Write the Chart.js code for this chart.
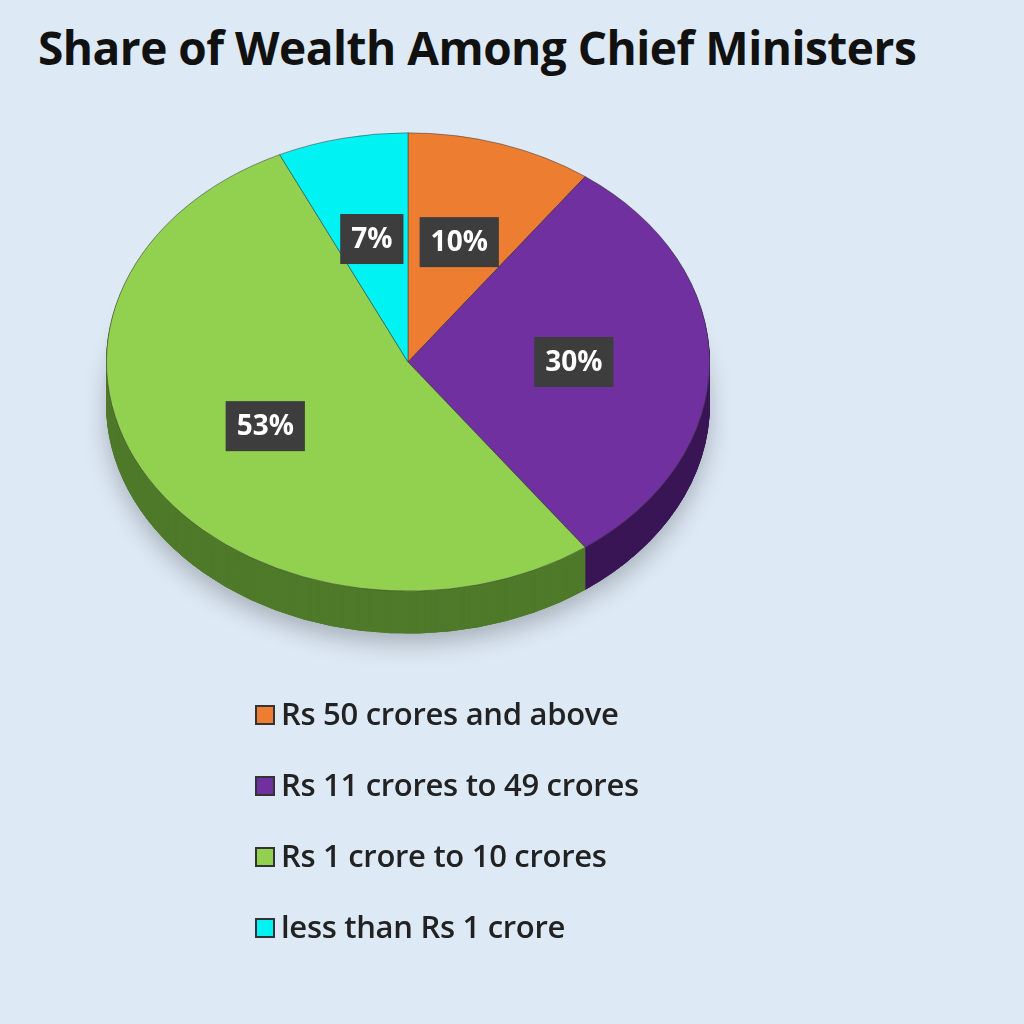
<!DOCTYPE html>
<html><head><meta charset="utf-8">
<script src="https://cdn.jsdelivr.net/npm/chart.js@4/dist/chart.umd.min.js"></script>
<style>
body{margin:0;background:#dde9f5;width:1024px;height:1024px;overflow:hidden;font-family:"Open Sans",Calibri,sans-serif}
#t{position:absolute;left:38px;top:16px;font-size:46px;font-weight:700;color:#111;letter-spacing:-0.5px}
canvas{position:absolute;left:0;top:0}
#lg{position:absolute;left:255px;top:692px}
.it{height:71px;font-size:31px;font-weight:600;color:#222;display:flex;align-items:flex-start;letter-spacing:-0.3px}
.sw{width:20px;height:20px;border:2px solid #333;margin:13px 6px 0 0;box-sizing:border-box}
</style></head><body>
<div id="t">Share of Wealth Among Chief Ministers</div>
<canvas id="c" width="1024" height="1024"></canvas>
<div id="lg"></div>
<script>
const categories=["Rs 50 crores and above","Rs 11 crores to 49 crores","Rs 1 crore to 10 crores","less than Rs 1 crore"];
const values=[10,30,53,7];
const labels=["10%","30%","53%","7%"];
const colors=["#ED7D31","#7030A0","#92D050","#00F2F2"];
const sides=["#9a4d1a","#3a1656","#4f7a2a","#008a8a"];
const CX=408,CY=362,SY=0.76,DEPTH=42;
const lg=document.getElementById('lg');
categories.forEach((c,i)=>{lg.innerHTML+=`<div class="it"><div class="sw" style="background:${colors[i]}"></div>${c}</div>`;});
function tf(ctx,dy){ctx.translate(0,CY+dy);ctx.scale(1,SY);ctx.translate(0,-CY);}
function drawSide(ctx,meta){meta.data.forEach((el,i)=>{const o=el.options.backgroundColor,b=el.options.borderColor;el.options.backgroundColor=sides[i];el.options.borderColor=sides[i];el.draw(ctx);el.options.backgroundColor=o;el.options.borderColor=b;});}
const pie3d={id:'pie3d',
beforeDatasetsDraw(chart){
 const ctx=chart.ctx,meta=chart.getDatasetMeta(0);
 ctx.save();ctx.shadowColor='rgba(0,0,0,0.25)';ctx.shadowBlur=25;ctx.shadowOffsetY=10;
 ctx.save();tf(ctx,DEPTH);drawSide(ctx,meta);ctx.restore();ctx.restore();
 for(let d=DEPTH;d>0;d-=1){ctx.save();tf(ctx,d);drawSide(ctx,meta);ctx.restore();}
 ctx.save();tf(ctx,0);meta.data.forEach(el=>el.draw(ctx));ctx.restore();
 return false;},
afterDraw(chart){
 const ctx=chart.ctx,meta=chart.getDatasetMeta(0);
 ctx.save();ctx.font='bold 28px "Open Sans",sans-serif';ctx.textAlign='center';ctx.textBaseline='middle';
 meta.data.forEach((el,i)=>{const a=(el.startAngle+el.endAngle)/2,r=el.outerRadius*0.55;
  const x=el.x+Math.cos(a)*r,y=CY+(el.y+Math.sin(a)*r-CY)*SY;
  const w=ctx.measureText(labels[i]).width+22,h=50;
  ctx.fillStyle='#3d3d3d';ctx.fillRect(x-w/2,y-h/2,w,h);
  ctx.fillStyle='#fff';ctx.fillText(labels[i],x,y+1);});
 ctx.restore();}
};
new Chart(document.getElementById('c'),{type:'pie',
data:{labels:categories,datasets:[{data:values,backgroundColor:colors,borderColor:'rgba(60,60,60,0.6)',borderWidth:1}]},
options:{responsive:false,animation:false,layout:{padding:{left:106,right:314,top:CY-302,bottom:1024-CY-302}},
plugins:{legend:{display:false},tooltip:{enabled:false}}},
plugins:[pie3d]});
</script></body></html>
